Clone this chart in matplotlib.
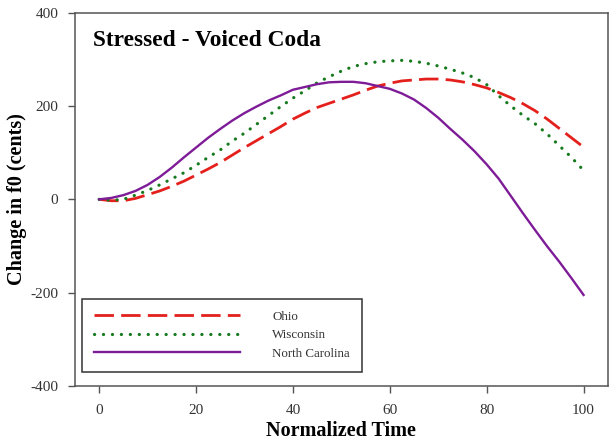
import numpy as np
import matplotlib
matplotlib.use('Agg')
import matplotlib.pyplot as plt

# normalized time points
time = [0, 2.5, 5, 7.5, 10, 12.5, 15, 17.5, 20, 22.5, 25, 27.5, 30, 32.5, 35, 37.5, 40,
        42.5, 45, 47.5, 50, 52.5, 55, 57.5, 60, 62.5, 65, 67.5, 70, 72.5, 75, 77.5, 80,
        82.5, 85, 87.5, 90, 92.5, 95, 97.5, 100]

# change in f0 (cents)
ohio = [0, -3, -3, 2, 10, 18, 28, 39, 52, 65, 79, 95, 111, 126, 141, 156, 172,
        185, 197, 206, 215, 224, 234, 243, 249, 254, 256, 258, 258, 256, 252, 246, 239,
        229, 218, 205, 190, 172, 152, 132, 112]
wisconsin = [0, -2, 0, 9, 19, 31, 44, 57, 73, 90, 106, 125, 142, 161, 180, 199, 217,
             233, 250, 263, 275, 285, 291, 295, 297, 298, 296, 292, 286, 279, 271, 261, 246,
             222, 200, 180, 162, 140, 115, 90, 62]
north_carolina = [0, 3, 9, 18, 31, 48, 68, 90, 111, 132, 151, 169, 185, 199, 212, 223, 235,
                  241, 247, 251, 252, 252, 249, 243, 237, 227, 214, 196, 175, 151, 128, 103, 75,
                  44, 7, -30, -66, -101, -134, -169, -205]

labels = ['Ohio', 'Wisconsin', 'North Carolina']
title = 'Stressed - Voiced Coda'
xticks = [0, 20, 40, 60, 80, 100]
yticks = [-400, -200, 0, 200, 400]

plt.rcParams['font.family'] = ['Liberation Serif', 'DejaVu Serif']
plt.rcParams['axes.unicode_minus'] = False

fig = plt.figure(figsize=(6.09, 4.42), dpi=100)
ax = fig.add_axes([0.123, 0.127, 0.875, 0.844])

ax.plot(time, ohio, color='#e4201c', lw=2.0, dashes=(7, 2.6), label=labels[0])
ax.plot(time, wisconsin, color='#177a1f', lw=2.3, linestyle=(0, (0.05, 2.75)),
        dash_capstyle='round', label=labels[1])
ax.plot(time, north_carolina, color='#7e1c98', lw=1.7, label=labels[2])

ax.set_xlim(-5, 105)
ax.set_ylim(-400, 400)
ax.set_xticks(xticks)
ax.set_yticks(yticks)

for s in ax.spines.values():
    s.set_color('#555555')
    s.set_linewidth(1.1)
ax.tick_params(direction='out', length=5, width=1, color='#555555',
               labelsize=11, labelcolor='#333333')
ax.tick_params(axis='x', pad=8)
ax.tick_params(axis='y', pad=7)

ax.set_xlabel('Normalized Time', fontsize=14.5, fontweight='bold', labelpad=3)
ax.set_ylabel('Change in f0 (cents)', fontsize=14.5, fontweight='bold', labelpad=2)

ax.text(0.034, 0.925, title, transform=ax.transAxes, fontsize=16.8,
        fontweight='bold', ha='left', va='center')

leg = ax.legend(loc='lower left', bbox_to_anchor=(0.013, 0.038), fontsize=9.4,
                handlelength=11.2, handletextpad=2.5, labelspacing=0.5,
                borderpad=0.9, borderaxespad=0, fancybox=False, framealpha=1)
leg.get_frame().set_edgecolor('#333333')
leg.get_frame().set_linewidth(1.1)
for t in leg.get_texts():
    t.set_color('#333333')

plt.savefig('out.png', dpi=100)
